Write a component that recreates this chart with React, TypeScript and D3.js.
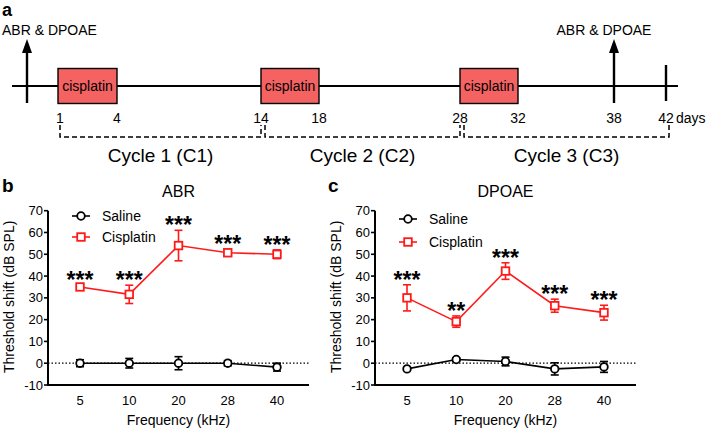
import React from 'react';
import * as d3 from 'd3';

// ---- data ----
const frequencies = ['5', '10', '20', '28', '40'];
const yTicks = [-10, 0, 10, 20, 30, 40, 50, 60, 70];

const abrSalineMean = [0, 0, 0, 0, -1.8];
const abrSalineErr = [1.6, 2.2, 3, 1.2, 1.8];
const abrCisMean = [35, 31.6, 54, 50.7, 50];
const abrCisErr = [1, 4.2, 7, 1.5, 2];
const abrStars = ['***', '***', '***', '***', '***'];

const dpSalineMean = [-2.6, 1.7, 0.8, -2.6, -1.7];
const dpSalineErr = [0.6, 0.8, 2, 2.8, 2.5];
const dpCisMean = [30, 19.1, 42.3, 26.4, 23.2];
const dpCisErr = [6, 2.6, 3.8, 3, 3.4];
const dpStars = ['***', '**', '***', '***', '***'];

// timeline (days)
const measureDays = [0, 38];
const cisplatinCycles = [[1, 4], [14, 18], [28, 32]];
const dayLabels = [1, 4, 14, 18, 28, 32, 38, 42];
const cycleLabels = ['Cycle 1 (C1)', 'Cycle 2 (C2)', 'Cycle 3 (C3)'];
const cycleBounds = [[1, 14], [14, 28], [28, 42]];

const FONT = 'Liberation Sans, Arial, sans-serif';
const RED = '#ff1a1a';

// timeline scale is not linear in the original artwork, so map key days piecewise
const dayScale = d3
  .scaleLinear()
  .domain([0, 1, 4, 14, 18, 28, 32, 38, 42])
  .range([27, 58, 117, 261, 319, 460, 518, 614, 666]);

const Timeline: React.FC = () => {
  const lineY = 86;
  const boxH = 35;
  return (
    <g>
      <text x={2} y={16} fontSize={18} fontWeight="bold">a</text>
      <line x1={12} x2={678} y1={lineY} y2={lineY} stroke="#000" strokeWidth={2.2} />
      {measureDays.map((d, i) => {
        const x = dayScale(d);
        return (
          <g key={d}>
            <line x1={x} x2={x} y1={50} y2={103} stroke="#000" strokeWidth={2.4} />
            <path d={`M${x},39 L${x - 5},53 L${x + 5},53 Z`} fill="#000" />
            <text
              x={i === 0 ? 2 : x - 10}
              y={34.5}
              fontSize={14}
              textAnchor={i === 0 ? 'start' : 'middle'}
            >
              ABR &amp; DPOAE
            </text>
          </g>
        );
      })}
      <line x1={dayScale(42)} x2={dayScale(42)} y1={65} y2={101} stroke="#000" strokeWidth={2.4} />
      {cisplatinCycles.map(([s, e]) => (
        <g key={s}>
          <rect
            x={dayScale(s)}
            y={lineY - boxH / 2}
            width={dayScale(e) - dayScale(s)}
            height={boxH}
            fill="#f46262"
            stroke="#000"
            strokeWidth={1.4}
          />
          <text x={(dayScale(s) + dayScale(e)) / 2} y={lineY + 5} fontSize={14} textAnchor="middle">
            cisplatin
          </text>
        </g>
      ))}
      {dayLabels.map(d => (
        <text key={d} x={dayScale(d) + (d === 1 ? 2 : 0)} y={123} fontSize={14} textAnchor="middle">
          {d}
        </text>
      ))}
      <text x={dayScale(42) + 10} y={123} fontSize={14}>days</text>
      {cycleBounds.map(([s, e], i) => {
        const x0 = dayScale(s) + (i === 0 ? 2 : 4);
        const x1 = dayScale(e) + (i === 2 ? 3 : 0);
        return (
          <g key={i}>
            <path
              d={`M${x0},125 L${x0},137 L${x1},137 L${x1},125`}
              fill="none"
              stroke="#000"
              strokeWidth={1.5}
              strokeDasharray="5,3"
            />
            <text x={(x0 + x1) / 2} y={162} fontSize={19} textAnchor="middle">
              {cycleLabels[i]}
            </text>
          </g>
        );
      })}
    </g>
  );
};

interface PanelProps {
  letter: string;
  letterX: number;
  title: string;
  left: number;
  salineMean: number[];
  salineErr: number[];
  cisMean: number[];
  cisErr: number[];
  stars: string[];
  legendY: [number, number];
}

const Panel: React.FC<PanelProps> = ({
  letter, letterX, title, left, salineMean, salineErr, cisMean, cisErr, stars, legendY,
}) => {
  const width = 261;
  const top = 210.7;
  const bottom = 385;
  const x = d3.scalePoint<string>().domain(frequencies).range([left, left + width]).padding(0.65);
  const y = d3.scaleLinear().domain([-10, 70]).range([bottom, top]);
  const line = d3
    .line<number>()
    .x((_, i) => x(frequencies[i])!)
    .y(d => y(d));

  const errBars = (mean: number[], err: number[], color: string) =>
    mean.map((m, i) => {
      const cx = x(frequencies[i])!;
      const y0 = y(m + err[i]);
      const y1 = y(m - err[i]);
      return (
        <g key={i} stroke={color} strokeWidth={1.6}>
          <line x1={cx} x2={cx} y1={y0} y2={y1} />
          <line x1={cx - 4} x2={cx + 4} y1={y0} y2={y0} />
          <line x1={cx - 4} x2={cx + 4} y1={y1} y2={y1} />
        </g>
      );
    });

  const lx = left + 24;
  return (
    <g>
      <text x={letterX} y={192} fontSize={19} fontWeight="bold">{letter}</text>
      <text x={left + width / 2} y={197} fontSize={16} textAnchor="middle">{title}</text>

      {/* y axis */}
      <line x1={left} x2={left} y1={top} y2={bottom} stroke="#000" strokeWidth={2} />
      {yTicks.map(t => (
        <g key={t}>
          <line x1={left - 4} x2={left} y1={y(t)} y2={y(t)} stroke="#000" strokeWidth={1.6} />
          <text x={left - 5} y={y(t) + 4.5} fontSize={13} textAnchor="end">{t}</text>
        </g>
      ))}
      <text
        transform={`translate(${left - 34},${(top + bottom) / 2 - 1}) rotate(-90)`}
        fontSize={14}
        textAnchor="middle"
      >
        Threshold shift (dB SPL)
      </text>

      {/* x axis */}
      <line x1={left - 1} x2={left + width} y1={bottom} y2={bottom} stroke="#000" strokeWidth={2} />
      {frequencies.map(f => (
        <text key={f} x={x(f)} y={405} fontSize={13} textAnchor="middle">{f}</text>
      ))}
      <text x={left + width / 2} y={425} fontSize={14} textAnchor="middle">Frequency (kHz)</text>

      {/* zero reference */}
      <line
        x1={left}
        x2={left + width}
        y1={y(0)}
        y2={y(0)}
        stroke="#000"
        strokeWidth={1.2}
        strokeDasharray="1.5,2"
      />

      {/* saline */}
      {errBars(salineMean, salineErr, '#000')}
      <path d={line(salineMean)!} fill="none" stroke="#000" strokeWidth={1.6} />
      {salineMean.map((m, i) => (
        <circle key={i} cx={x(frequencies[i])} cy={y(m)} r={3.8} fill="#fff" stroke="#000" strokeWidth={1.8} />
      ))}

      {/* cisplatin */}
      {errBars(cisMean, cisErr, RED)}
      <path d={line(cisMean)!} fill="none" stroke={RED} strokeWidth={1.6} />
      {cisMean.map((m, i) => (
        <rect
          key={i}
          x={x(frequencies[i])! - 3.8}
          y={y(m) - 3.8}
          width={7.6}
          height={7.6}
          fill="#fff"
          stroke={RED}
          strokeWidth={1.8}
        />
      ))}

      {stars.map((s, i) => (
        <text
          key={i}
          x={x(frequencies[i])}
          y={y(cisMean[i] + cisErr[i]) - 10 + 13}
          fontSize={23}
          fontWeight="bold"
          textAnchor="middle"
        >
          {s}
        </text>
      ))}

      {/* legend */}
      <line x1={lx} x2={lx + 18} y1={legendY[0]} y2={legendY[0]} stroke="#000" strokeWidth={1.6} />
      <circle cx={lx + 9} cy={legendY[0]} r={3.8} fill="#fff" stroke="#000" strokeWidth={1.8} />
      <text x={lx + 30} y={legendY[0] + 5} fontSize={14}>Saline</text>
      <line x1={lx} x2={lx + 18} y1={legendY[1]} y2={legendY[1]} stroke={RED} strokeWidth={1.6} />
      <rect x={lx + 9 - 3.8} y={legendY[1] - 3.8} width={7.6} height={7.6} fill="#fff" stroke={RED} strokeWidth={1.8} />
      <text x={lx + 30} y={legendY[1] + 5} fontSize={14}>Cisplatin</text>
    </g>
  );
};

const App: React.FC = () => (
  <div style={{ position: 'absolute', left: 0, top: 0 }}>
    <svg width={709} height={429} style={{ display: 'block', fontFamily: FONT, background: '#fff' }}>
      <Timeline />
      <Panel
        letter="b"
        letterX={2}
        title="ABR"
        left={48}
        salineMean={abrSalineMean}
        salineErr={abrSalineErr}
        cisMean={abrCisMean}
        cisErr={abrCisErr}
        stars={abrStars}
        legendY={[216, 237]}
      />
      <Panel
        letter="c"
        letterX={328}
        title="DPOAE"
        left={375}
        salineMean={dpSalineMean}
        salineErr={dpSalineErr}
        cisMean={dpCisMean}
        cisErr={dpCisErr}
        stars={dpStars}
        legendY={[219, 242]}
      />
    </svg>
  </div>
);

export default App;
